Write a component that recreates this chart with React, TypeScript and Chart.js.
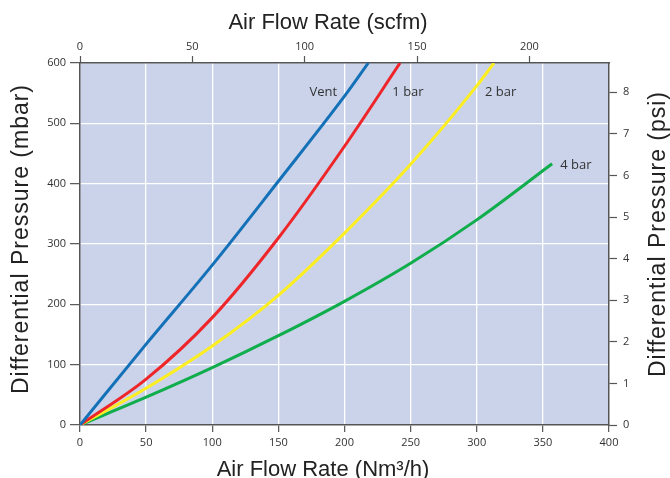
import React, { useEffect, useRef } from 'react';
import { Chart, registerables } from 'chart.js';

Chart.register(...registerables);

// Air flow rate (Nm3/h) vs differential pressure (mbar) for each curve
const ventFlow = [0, 50, 100, 150, 200, 218];
const ventDp = [0, 134, 265, 404, 545, 600];
const bar1Flow = [0, 50, 100, 150, 200, 242];
const bar1Dp = [0, 76, 178, 310, 462, 600];
const bar2Flow = [0, 50, 100, 150, 200, 250, 300, 313];
const bar2Dp = [0, 61, 131, 215, 318, 432, 562, 600];
const bar4Flow = [0, 50, 100, 150, 200, 250, 300, 357];
const bar4Dp = [0, 46, 95, 148, 205, 268, 340, 433];

const seriesNames = ['Vent', '1 bar', '2 bar', '4 bar'];
const seriesColors = ['#1471b8', '#ee2529', '#fcee21', '#0fad4b'];
const labelFlow = [184, 248, 318, 375];
const labelDp = [552, 552, 552, 431];

const flowMax = 400;
const dpMax = 600;
const scfmPerNm3h = 0.5886;
const mbarPerPsi = 68.9476;

const topTitle = 'Air Flow Rate (scfm)';
const bottomTitle = 'Air Flow Rate (Nm³/h)';
const leftTitle = 'Differential Pressure (mbar)';
const rightTitle = 'Differential Pressure (psi)';

const toPoints = (xs: number[], ys: number[]) => xs.map((x, i) => ({ x, y: ys[i] }));

const decor = {
  id: 'decor',
  beforeDraw(chart: any) {
    const { ctx, chartArea } = chart;
    ctx.save();
    ctx.fillStyle = '#cad3ea';
    ctx.fillRect(chartArea.left, chartArea.top, chartArea.right - chartArea.left, chartArea.bottom - chartArea.top);
    ctx.restore();
  },
  afterDraw(chart: any) {
    const { ctx } = chart;
    const xs = chart.scales.x;
    const ys = chart.scales.y;
    ctx.save();
    ctx.fillStyle = '#222';
    ctx.font = '22px "Liberation Sans"';
    ctx.textAlign = 'center';
    ctx.textBaseline = 'alphabetic';
    ctx.fillText(topTitle, 328, 29);
    ctx.fillText(bottomTitle, 323, 476);

    ctx.font = '23px "Liberation Sans"';
    (ctx as any).letterSpacing = '1px';
    ctx.textBaseline = 'middle';
    ctx.save();
    ctx.translate(22, 239);
    ctx.rotate(-Math.PI / 2);
    ctx.fillText(leftTitle, 0, 0);
    ctx.restore();
    ctx.save();
    ctx.translate(659, 234);
    ctx.rotate(-Math.PI / 2);
    ctx.fillText(rightTitle, 0, 0);
    ctx.restore();
    (ctx as any).letterSpacing = '0px';

    ctx.font = '13px "Open Sans"';
    ctx.fillStyle = '#333';
    ctx.textAlign = 'center';
    ctx.textBaseline = 'middle';
    seriesNames.forEach((name, i) => {
      ctx.fillText(name, xs.getPixelForValue(labelFlow[i]), ys.getPixelForValue(labelDp[i]));
    });
    ctx.restore();
  },
};

export default function App() {
  const ref = useRef<HTMLCanvasElement>(null);
  useEffect(() => {
    if (!ref.current) return;
    const tickFont = { family: '"Open Sans"', size: 11 };
    const axisColor = '#555';
    const chart = new Chart(ref.current, {
      type: 'line',
      data: {
        datasets: [
          toPoints(ventFlow, ventDp),
          toPoints(bar1Flow, bar1Dp),
          toPoints(bar2Flow, bar2Dp),
          toPoints(bar4Flow, bar4Dp),
        ].map((d, i) => ({
          label: seriesNames[i],
          data: d,
          borderColor: seriesColors[i],
          backgroundColor: seriesColors[i],
          borderWidth: 3,
          pointRadius: 0,
          cubicInterpolationMode: 'monotone' as const,
          xAxisID: 'x',
          yAxisID: 'y',
        })),
      },
      plugins: [decor],
      options: {
        animation: false,
        responsive: false,
        layout: { padding: 0 },
        plugins: { legend: { display: false }, tooltip: { enabled: false } },
        scales: {
          x: {
            type: 'linear',
            position: 'bottom',
            min: 0,
            max: flowMax,
            ticks: { stepSize: 50, font: tickFont, color: '#333', padding: 4, maxRotation: 0 },
            grid: { color: '#ffffff', lineWidth: 1.3, tickColor: axisColor, tickLength: 7, tickWidth: 1.2 },
            border: { color: axisColor, width: 1.5 },
            afterFit: (s: any) => { s.height = 53; },
          },
          x2: {
            type: 'linear',
            position: 'top',
            min: 0,
            max: flowMax * scfmPerNm3h,
            ticks: { stepSize: 50, includeBounds: false, font: tickFont, color: '#333', padding: 3, maxRotation: 0 },
            grid: { drawOnChartArea: false, tickColor: axisColor, tickLength: 7, tickWidth: 1.2 },
            border: { color: axisColor, width: 1.5 },
            afterFit: (s: any) => { s.height = 63; },
          },
          y: {
            type: 'linear',
            position: 'left',
            min: 0,
            max: dpMax,
            ticks: { stepSize: 100, font: tickFont, color: '#333', padding: 4 },
            grid: { color: '#ffffff', lineWidth: 1.3, tickColor: axisColor, tickLength: 10, tickWidth: 1.2 },
            border: { color: axisColor, width: 1.5 },
            afterFit: (s: any) => { s.width = 80; },
          },
          y2: {
            type: 'linear',
            position: 'right',
            min: 0,
            max: dpMax / mbarPerPsi,
            ticks: { stepSize: 1, includeBounds: false, font: tickFont, color: '#333', padding: 6 },
            grid: { drawOnChartArea: false, tickColor: axisColor, tickLength: 8, tickWidth: 1.2 },
            border: { color: axisColor, width: 1.5 },
            afterFit: (s: any) => { s.width = 61; },
          },
        },
      },
    });
    return () => chart.destroy();
  }, []);
  return (
    <div style={{ position: 'fixed', left: 0, top: 0, width: 670, height: 478, background: '#fff' }}>
      <canvas ref={ref} width={670} height={478} style={{ display: 'block' }} />
    </div>
  );
}
